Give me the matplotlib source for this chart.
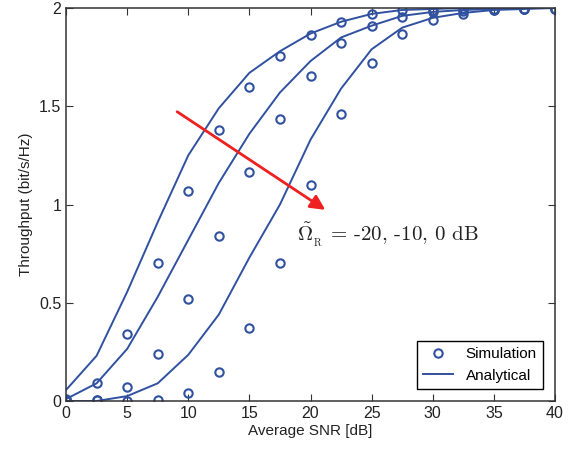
import matplotlib
matplotlib.use("Agg")
import matplotlib.pyplot as plt

snr = [0, 2.5, 5, 7.5, 10, 12.5, 15, 17.5, 20, 22.5, 25, 27.5, 30, 32.5, 35, 37.5, 40]

# analytical curves (Omega_R = -20, -10, 0 dB)
ana_1 = [0.056, 0.23, 0.555, 0.91, 1.25, 1.49, 1.67, 1.78, 1.87, 1.93, 1.97, 1.99, 1.995, 2.0, 2.0, 2.0, 2.0]
ana_2 = [0.01, 0.09, 0.265, 0.53, 0.82, 1.11, 1.36, 1.57, 1.73, 1.85, 1.91, 1.96, 1.98, 1.99, 1.995, 2.0, 2.0]
ana_3 = [0.0, 0.0, 0.025, 0.09, 0.235, 0.44, 0.73, 1.0, 1.33, 1.59, 1.79, 1.90, 1.95, 1.975, 1.99, 1.995, 2.0]

# simulation points
sim_1 = [0.01, 0.093, 0.34, 0.70, 1.07, 1.38, 1.60, 1.755, 1.865, 1.93, 1.97, 1.99, 1.99, 1.995, 1.995, 1.995, 1.995]
sim_2 = [0.005, 0.005, 0.07, 0.24, 0.52, 0.84, 1.165, 1.435, 1.655, 1.82, 1.91, 1.956, 1.98, 1.985, 1.99, 1.995, 1.995]
sim_3 = [0.005, 0.005, 0.0, 0.005, 0.04, 0.15, 0.37, 0.70, 1.10, 1.46, 1.72, 1.867, 1.94, 1.97, 1.99, 1.995, 1.995]

col = '#3050a0'
plt.rcParams['font.family'] = ['Liberation Sans', 'DejaVu Sans']
plt.rcParams['mathtext.fontset'] = 'cm'

fig = plt.figure(figsize=(5.76, 4.57), dpi=100)
ax = fig.add_axes([0.1146, 0.1225, 0.849, 0.86])

for i, (a, s) in enumerate([(ana_1, sim_1), (ana_2, sim_2), (ana_3, sim_3)]):
    ax.plot(snr, s, 'o', mfc='none', mec=col, mew=1.5, ms=6,
            label='Simulation' if i == 0 else None)
    ax.plot(snr, a, '-', color=col, lw=1.4,
            label='Analytical' if i == 0 else None)

ax.annotate('', xy=(21.4, 0.965), xytext=(8.9, 1.48),
            arrowprops=dict(arrowstyle='-|>', color='#ee2020', lw=2,
                            mutation_scale=22))
ax.text(18.9, 0.845, r'$\tilde{\Omega}_{_{\rm R}}$ = -20, -10, 0 dB',
        fontsize=15, family=['cmr10', 'DejaVu Serif'], va='center', ha='left',
        color='#222222')

for sp in ax.spines.values():
    sp.set_color('#333333')
    sp.set_linewidth(1.1)

ax.set_xlim(0, 40)
ax.set_ylim(0, 2)
ax.set_xticks(range(0, 41, 5))
ax.set_yticks([0, 0.5, 1, 1.5, 2])
ax.set_yticklabels(['0', '0.5', '1', '1.5', '2'])
ax.tick_params(direction='in', top=True, right=True, labelsize=11.5, length=5,
               colors='#333333', labelcolor='#222222')
ax.set_xlabel('Average SNR [dB]', fontsize=11, labelpad=2, color='#222222')
ax.set_ylabel('Throughput (bit/s/Hz)', fontsize=11, labelpad=4, color='#222222')

leg = ax.legend(loc='lower right', fontsize=11, fancybox=False, framealpha=1,
                edgecolor='black', borderaxespad=0.8)
leg.get_frame().set_linewidth(1)

fig.savefig('out.png', dpi=100)
